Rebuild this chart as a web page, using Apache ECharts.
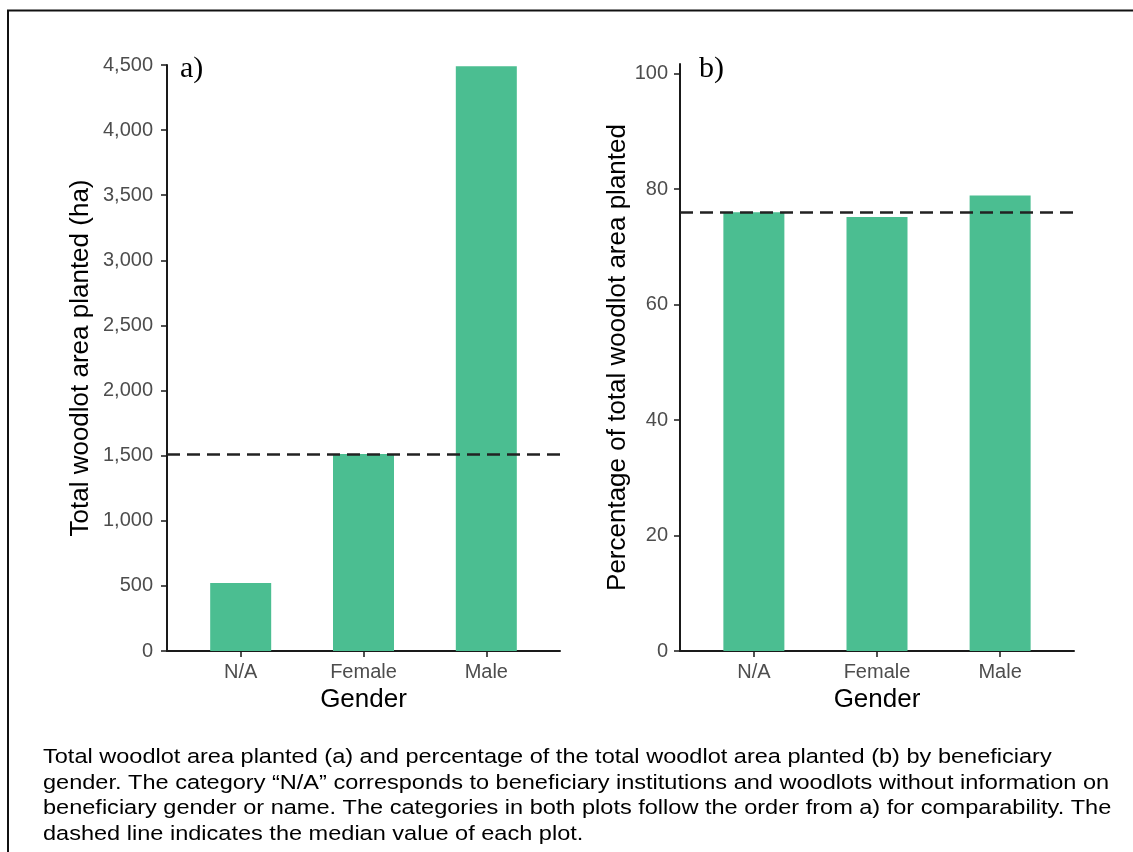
<!DOCTYPE html>
<html>
<head>
<meta charset="utf-8">
<script src="https://cdn.jsdelivr.net/npm/echarts@6/dist/echarts.min.js"></script>
<style>
html,body{margin:0;padding:0;background:#fff;}
#chart{width:1133px;height:852px;}
</style>
</head>
<body>
<div id="chart"></div>
<script>
// ---- data ----
const categories = ["N/A", "Female", "Male"];
const areaValues = [522, 1513, 4490];          // panel a) total woodlot area planted (ha)
const pctValues = [76.0, 75.2, 78.9];          // panel b) percentage of total woodlot area planted
const areaTicks = [0, 500, 1000, 1500, 2000, 2500, 3000, 3500, 4000, 4500];
const pctTicks = [0, 20, 40, 60, 80, 100];
const catPositions = [1, 2, 3];
const captionLines = [
  "Total woodlot area planted (a) and percentage of the total woodlot area planted (b) by beneficiary",
  "gender. The category \u201CN/A\u201D corresponds to beneficiary institutions and woodlots without information on",
  "beneficiary gender or name. The categories in both plots follow the order from a) for comparability. The",
  "dashed line indicates the median value of each plot."
];

function median(arr) {
  const s = arr.slice().sort((a, b) => a - b);
  const m = Math.floor(s.length / 2);
  return s.length % 2 ? s[m] : (s[m - 1] + s[m]) / 2;
}

const GREEN = '#4bbe91';
const AXIS = '#1a1a1a';
const TICKTXT = '#4d4d4d';
const FONT = 'Liberation Sans, Arial, sans-serif';

function xAxisDef(gridIndex) {
  return {
    type: 'value', gridIndex: gridIndex, min: 0.4, max: 3.6,
    name: 'Gender', nameLocation: 'middle', nameGap: 36,
    nameTextStyle: { fontSize: 26, color: '#000', fontFamily: FONT },
    axisLine: { show: true, lineStyle: { color: AXIS, width: 2 } },
    axisTick: { show: true, length: 6, customValues: catPositions, lineStyle: { color: AXIS, width: 1.5 } },
    axisLabel: { customValues: catPositions, margin: 11, fontSize: 20, color: TICKTXT, fontFamily: FONT,
      formatter: v => categories[Math.round(v) - 1] },
    splitLine: { show: false }
  };
}

const chart = echarts.init(document.getElementById('chart'));
const seriesBar = (xi, vals) => ({
  type: 'bar', xAxisIndex: xi, yAxisIndex: xi, barWidth: 61,
  itemStyle: { color: GREEN },
  data: vals.map((v, i) => [catPositions[i], v]),
  markLine: {
    silent: true, symbol: ['none', 'none'],
    label: { show: false },
    lineStyle: { color: '#222', width: 2.5, type: [13, 7] },
    data: [{ yAxis: median(vals) }]
  },
  z: 2
});

chart.setOption({
  animation: false,
  backgroundColor: '#fff',
  grid: [
    { left: 167, top: 65, width: 393, height: 586 },
    { left: 680, top: 64, width: 394, height: 587 }
  ],
  xAxis: [xAxisDef(0), xAxisDef(1)],
  yAxis: [
    {
      type: 'value', gridIndex: 0, min: 0, max: 4500, interval: 500,
      name: 'Total woodlot area planted (ha)', nameLocation: 'middle', nameGap: 73,
      nameTextStyle: { fontSize: 26, color: '#000', fontFamily: FONT },
      axisLine: { show: true, lineStyle: { color: AXIS, width: 2 } },
      axisTick: { show: true, length: 6, customValues: areaTicks, lineStyle: { color: AXIS, width: 1.5 } },
      axisLabel: { customValues: areaTicks, margin: 14, fontSize: 20, color: TICKTXT, fontFamily: FONT,
        formatter: v => v.toLocaleString('en-US') },
      splitLine: { show: false }
    },
    {
      type: 'value', gridIndex: 1, min: 0, max: 101.7,
      name: 'Percentage of total woodlot area planted', nameLocation: 'middle', nameGap: 34,
      nameTextStyle: { fontSize: 26, color: '#000', fontFamily: FONT },
      axisLine: { show: true, lineStyle: { color: AXIS, width: 2 } },
      axisTick: { show: true, length: 6, customValues: pctTicks, lineStyle: { color: AXIS, width: 1.5 } },
      axisLabel: { customValues: pctTicks, margin: 12, fontSize: 20, color: TICKTXT, fontFamily: FONT },
      splitLine: { show: false }
    }
  ],
  series: [seriesBar(0, areaValues), seriesBar(1, pctValues)],
  graphic: [
    { type: 'line', shape: { x1: 8, y1: 10, x2: 8, y2: 852 }, style: { stroke: '#111', lineWidth: 2 } },
    { type: 'line', shape: { x1: 7, y1: 10.5, x2: 1133, y2: 10.5 }, style: { stroke: '#111', lineWidth: 2 } },
    { type: 'text', left: 180, top: 54, style: { text: 'a)', fontSize: 30, fontFamily: 'Liberation Serif, Times New Roman, serif', fill: '#000' } },
    { type: 'text', left: 699, top: 54, style: { text: 'b)', fontSize: 30, fontFamily: 'Liberation Serif, Times New Roman, serif', fill: '#000' } }
  ].concat(captionLines.map((t, i) => ({
    type: 'text', x: 43, y: 747 + i * 25.5, scaleX: 1.148,
    style: { x: 0, y: 0, text: t, fontSize: 20.5, fontFamily: FONT, fill: '#000', verticalAlign: 'top', align: 'left' }
  })))
});
</script>
</body>
</html>
